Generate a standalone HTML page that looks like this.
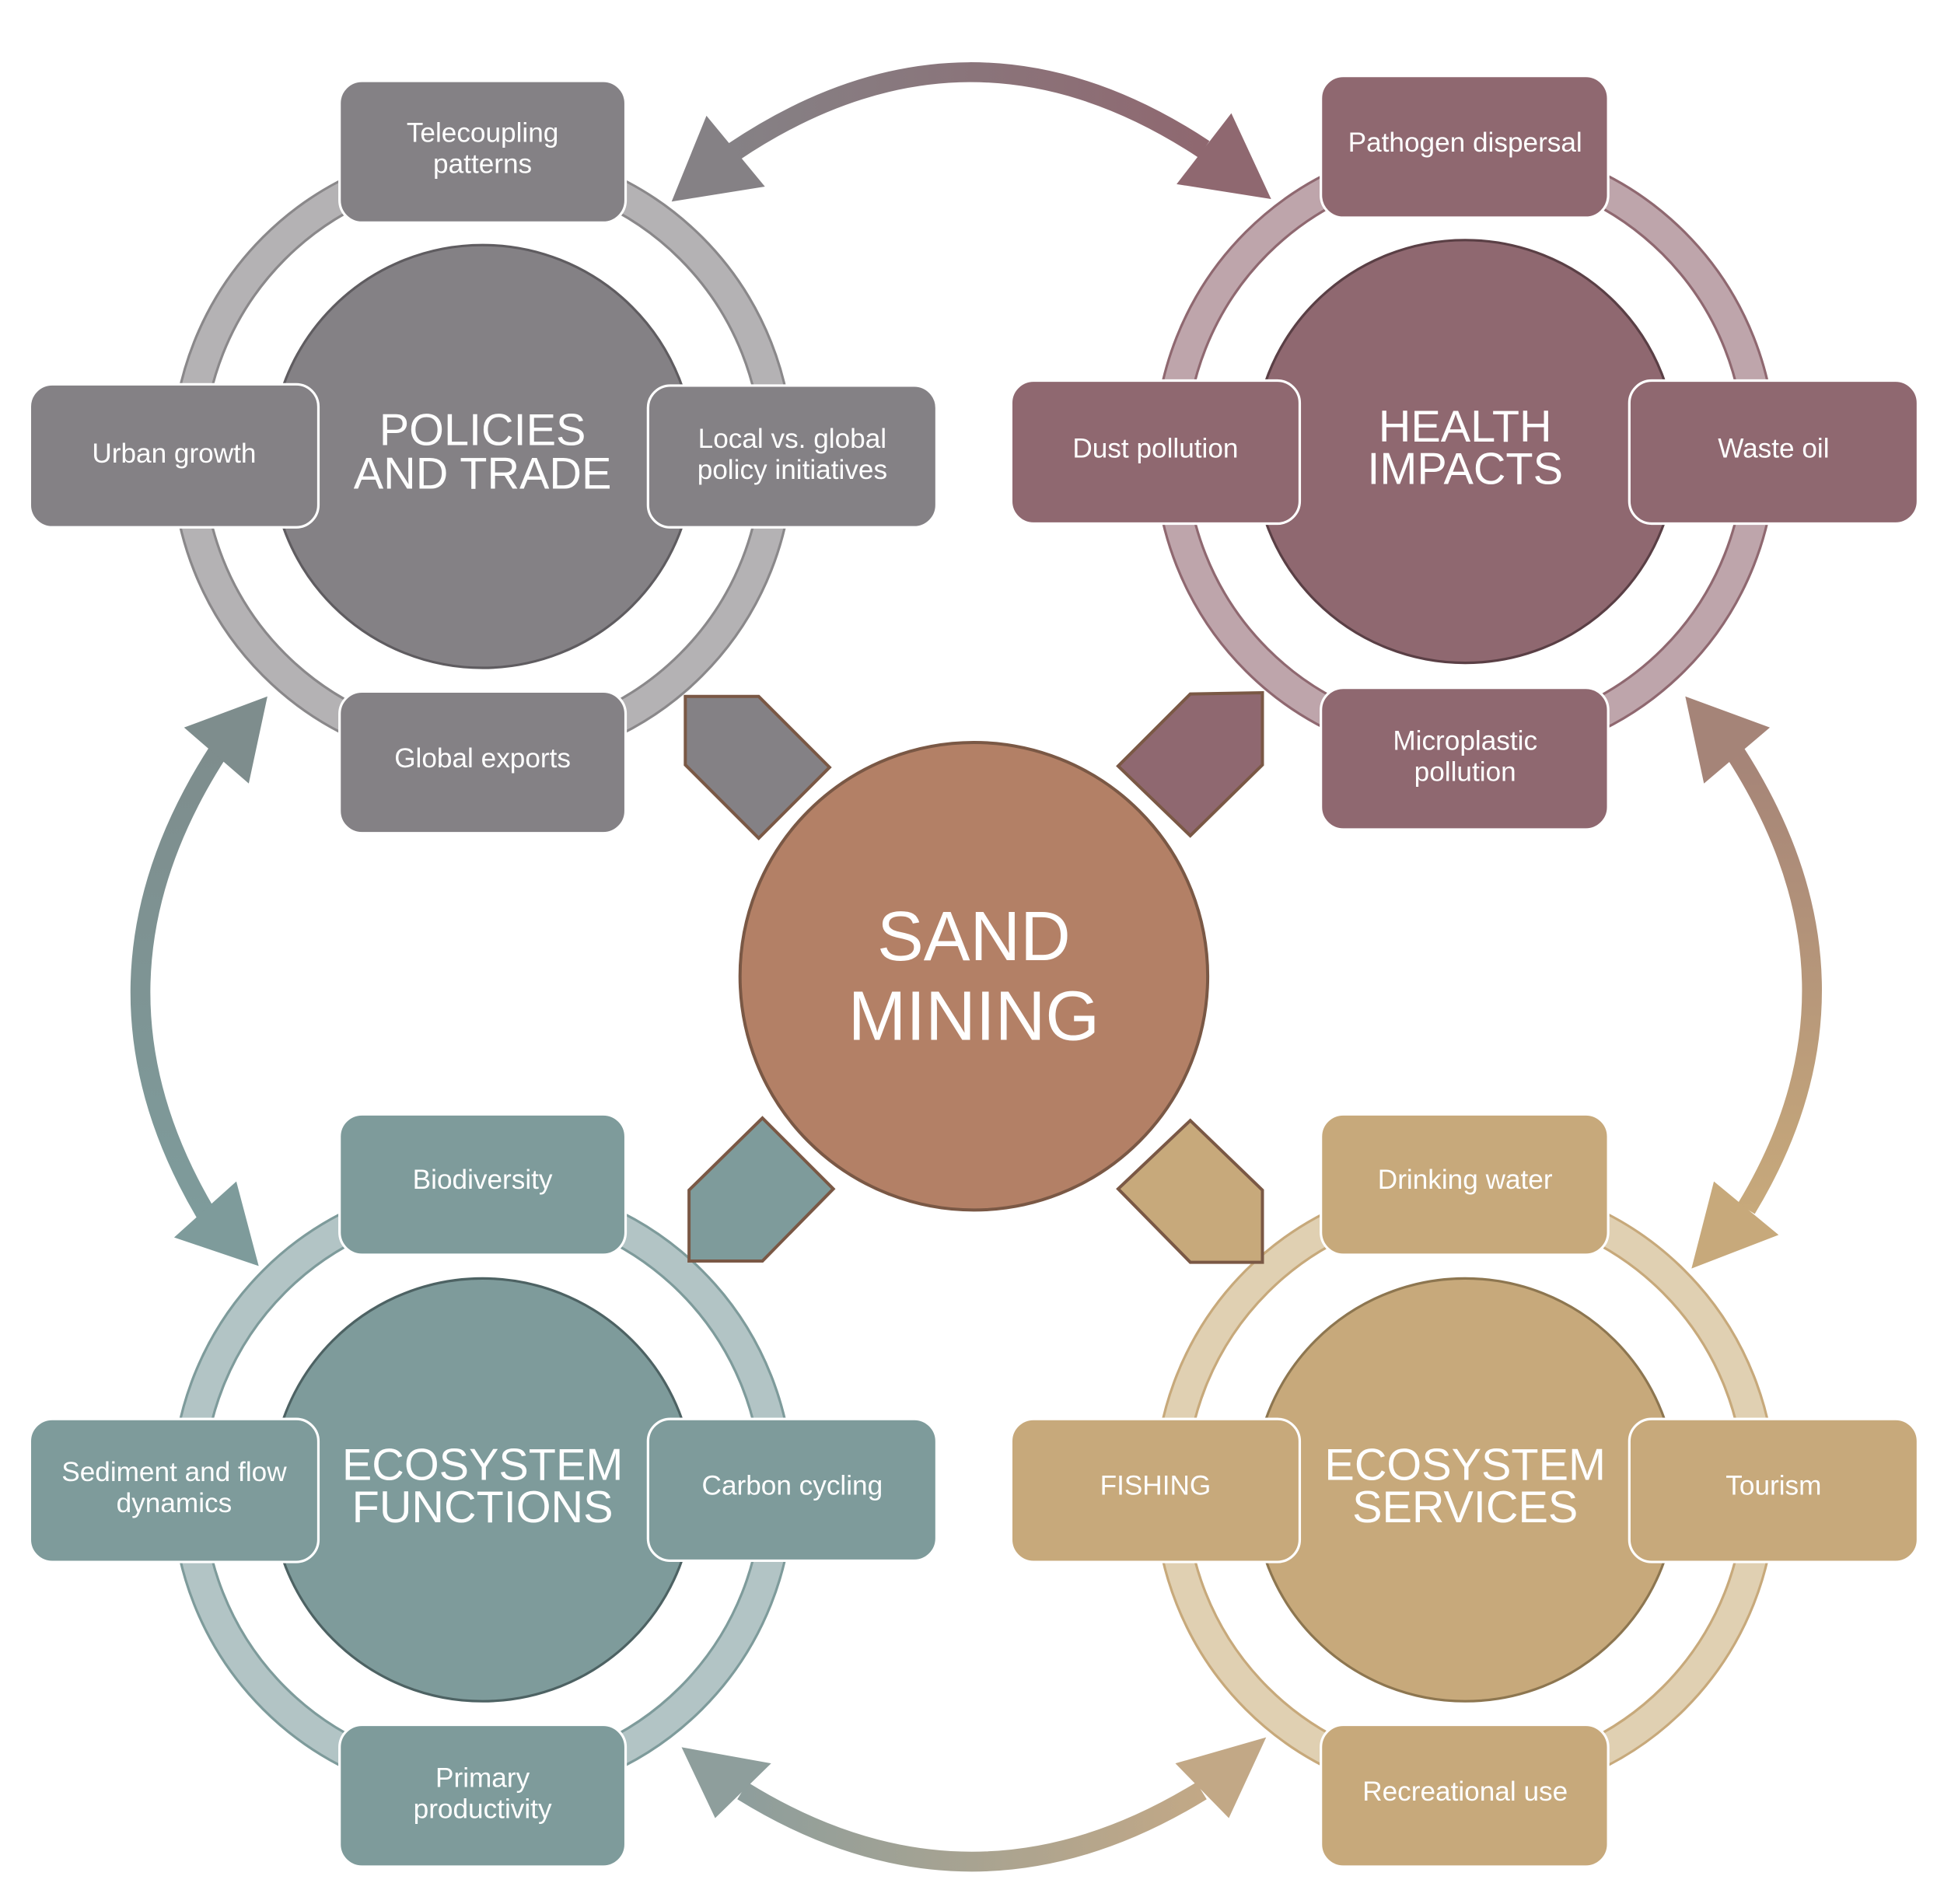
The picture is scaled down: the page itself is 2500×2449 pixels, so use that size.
<!DOCTYPE html>
<html><head><meta charset="utf-8"><style>html,body{margin:0;padding:0;background:#fff}svg{display:block}</style></head><body>
<svg width="2500" height="2449" viewBox="0 0 1563 1531" xmlns="http://www.w3.org/2000/svg" font-family="Liberation Sans, sans-serif">
<defs>
<linearGradient id="gt" x1="0" x2="1"><stop offset="0" stop-color="#858185"/><stop offset="1" stop-color="#8f6870"/></linearGradient>
<linearGradient id="gl" x1="0" y1="0" x2="0" y2="1"><stop offset="0" stop-color="#7e8d8d"/><stop offset="1" stop-color="#7e9b9b"/></linearGradient>
<linearGradient id="gr" x1="0" y1="0" x2="0" y2="1"><stop offset="0" stop-color="#a58478"/><stop offset="1" stop-color="#c7a97b"/></linearGradient>
<linearGradient id="gb" x1="0" x2="1"><stop offset="0" stop-color="#8e9e9c"/><stop offset="1" stop-color="#c2a886"/></linearGradient>
</defs>
<!-- curved arrows -->
<path d="M590 122 Q779 -5 968 120" fill="none" stroke="url(#gt)" stroke-width="16"/>
<polygon points="540,162 568,93 615,150" fill="#858185"/>
<polygon points="1022,160 990,91 946,148" fill="#8f6870"/>
<path d="M175 605 Q56 790 165 975" fill="none" stroke="url(#gl)" stroke-width="16"/>
<polygon points="215,560 148,585 200,630" fill="#7e8d8d"/>
<polygon points="208,1018 140,995 190,950" fill="#7e9b9b"/>
<path d="M1395 605 Q1514 790 1404 972" fill="none" stroke="url(#gr)" stroke-width="16"/>
<polygon points="1355,560 1423,585 1370,630" fill="#a58478"/>
<polygon points="1360,1020 1378,950 1430,993" fill="#c7a97b"/>
<path d="M597 1440 Q781 1554 966 1440" fill="none" stroke="url(#gb)" stroke-width="16"/>
<polygon points="548,1405 620,1418 575,1462" fill="#8e9e9c"/>
<polygon points="1018,1397 988,1462 945,1418" fill="#c2a886"/>
<!-- rings -->
<g fill="none">
<circle cx="388" cy="367" r="237" stroke="#8a888a" stroke-width="27"/><circle cx="388" cy="367" r="237" stroke="#b4b2b4" stroke-width="23"/>
<circle cx="1178" cy="363" r="237" stroke="#8f6870" stroke-width="27"/><circle cx="1178" cy="363" r="237" stroke="#bea5ab" stroke-width="23"/>
<circle cx="388" cy="1198" r="237" stroke="#7e9b9b" stroke-width="27"/><circle cx="388" cy="1198" r="237" stroke="#b2c4c5" stroke-width="23"/>
<circle cx="1178" cy="1198" r="237" stroke="#c7a97b" stroke-width="27"/><circle cx="1178" cy="1198" r="237" stroke="#e0d0b2" stroke-width="23"/>
</g>
<!-- center circles -->
<circle cx="388" cy="367" r="170" fill="#848185" stroke="#5f5c60" stroke-width="2"/>
<circle cx="1178" cy="363" r="170" fill="#8f6870" stroke="#5a3f45" stroke-width="2"/>
<circle cx="388" cy="1198" r="170" fill="#7e9b9b" stroke="#4d6263" stroke-width="2"/>
<circle cx="1178" cy="1198" r="170" fill="#c7a97b" stroke="#8d7650" stroke-width="2"/>
<!-- pentagons -->
<g stroke="#7a5845" stroke-width="2.5">
<polygon points="551,560 610,560 667,617 610,674 551,615" fill="#848185"/>
<polygon points="1015,557 957,558 899,616 957,672 1015,615" fill="#8f6870"/>
<polygon points="554,957 613,899 670,956 613,1014 554,1014" fill="#7e9b9b"/>
<polygon points="899,956 957,901 1015,957 1015,1015 957,1015" fill="#c7a97b"/>
</g>
<circle cx="783" cy="785" r="188" fill="#b38066" stroke="#7a5845" stroke-width="2.5"/>
<!-- boxes -->
<g stroke="#fff" stroke-width="2">
<g fill="#848185">
<rect x="273" y="65" width="230" height="114" rx="18"/><rect x="24" y="309" width="232" height="115" rx="18"/><rect x="521" y="310" width="232" height="114" rx="18"/><rect x="273" y="556" width="230" height="114" rx="18"/>
</g>
<g fill="#8f6870">
<rect x="1062" y="61" width="231" height="114" rx="18"/><rect x="813" y="306" width="232" height="115" rx="18"/><rect x="1310" y="306" width="232" height="115" rx="18"/><rect x="1062" y="553" width="231" height="114" rx="18"/>
</g>
<g fill="#7e9b9b">
<rect x="273" y="896" width="230" height="113" rx="18"/><rect x="24" y="1141" width="232" height="115" rx="18"/><rect x="521" y="1141" width="232" height="114" rx="18"/><rect x="273" y="1387" width="230" height="114" rx="18"/>
</g>
<g fill="#c7a97b">
<rect x="1062" y="896" width="231" height="113" rx="18"/><rect x="813" y="1141" width="232" height="115" rx="18"/><rect x="1310" y="1141" width="232" height="115" rx="18"/><rect x="1062" y="1387" width="231" height="114" rx="18"/>
</g>
</g>
<!-- text -->
<g fill="#fff" font-size="22" text-anchor="middle">
<text x="388" y="114">Telecoupling</text><text x="388" y="139">patterns</text>
<text x="140" y="372">Urban growth</text>
<text x="637" y="360">Local vs. global</text><text x="637" y="385">policy initiatives</text>
<text x="388" y="617">Global exports</text>
<text x="1178" y="122">Pathogen dispersal</text>
<text x="929" y="368">Dust pollution</text>
<text x="1426" y="368">Waste oil</text>
<text x="1178" y="603">Microplastic</text><text x="1178" y="628">pollution</text>
<text x="388" y="956">Biodiversity</text>
<text x="140" y="1191">Sediment and flow</text><text x="140" y="1216">dynamics</text>
<text x="637" y="1202">Carbon cycling</text>
<text x="388" y="1437">Primary</text><text x="388" y="1462">productivity</text>
<text x="1178" y="956">Drinking water</text>
<text x="929" y="1202">FISHING</text>
<text x="1426" y="1202">Tourism</text>
<text x="1178" y="1448">Recreational use</text>
</g>
<g fill="#fff" font-size="36" text-anchor="middle">
<text x="388" y="358">POLICIES</text><text x="388" y="393">AND TRADE</text>
<text x="1178" y="355">HEALTH</text><text x="1178" y="389">IMPACTS</text>
<text x="388" y="1190">ECOSYSTEM</text><text x="388" y="1224">FUNCTIONS</text>
<text x="1178" y="1190">ECOSYSTEM</text><text x="1178" y="1224">SERVICES</text>
</g>
<g fill="#fff" font-size="56" text-anchor="middle">
<text x="783" y="772">SAND</text><text x="783" y="836">MINING</text>
</g>
</svg>
</body></html>
